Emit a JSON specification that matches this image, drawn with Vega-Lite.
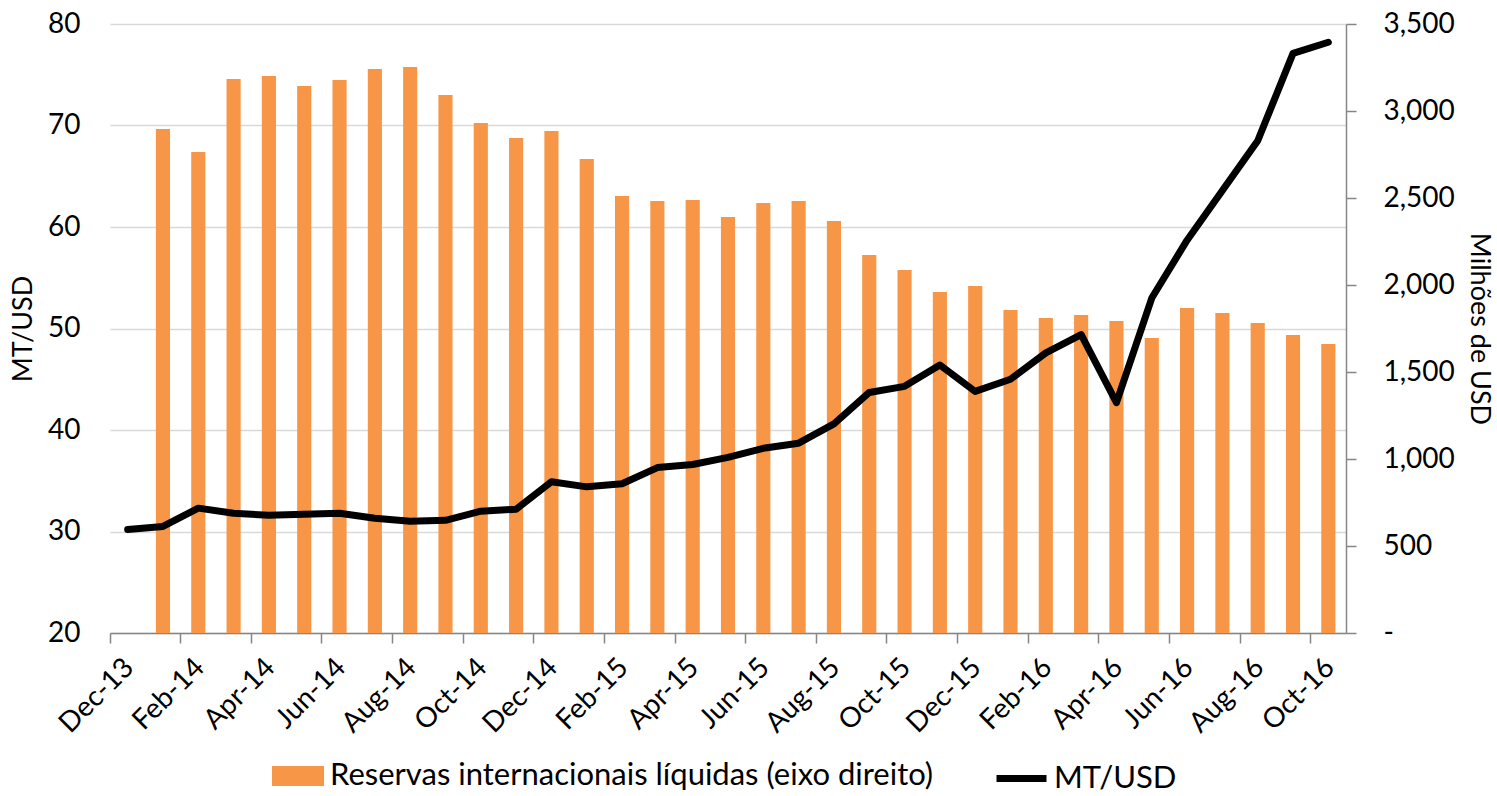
{
  "$schema": "https://vega.github.io/schema/vega-lite/v6.json",
  "width": 1236,
  "height": 609,
  "autosize": {"type": "none"},
  "padding": {"left": 110, "top": 24, "right": 151, "bottom": 163},
  "background": "white",
  "config": {
    "font": "Lato",
    "view": {"stroke": null},
    "axis": {"labelFont": "Lato", "titleFont": "Lato", "labelColor": "#000", "titleColor": "#000", "labelFontSize": 28, "titleFontSize": 27, "titleFontWeight": "normal"},
    "legend": {"labelFont": "Lato", "labelFontSize": 31, "labelColor": "#000"}
  },
  "data": {
    "values": [
      {"month": "Dec-13", "mt": 30.2, "res": null},
      {"month": "Jan-14", "mt": 30.5, "res": 2896},
      {"month": "Feb-14", "mt": 32.3, "res": 2764},
      {"month": "Mar-14", "mt": 31.8, "res": 3184},
      {"month": "Apr-14", "mt": 31.6, "res": 3201},
      {"month": "May-14", "mt": 31.7, "res": 3144},
      {"month": "Jun-14", "mt": 31.8, "res": 3178},
      {"month": "Jul-14", "mt": 31.3, "res": 3241},
      {"month": "Aug-14", "mt": 31.0, "res": 3253},
      {"month": "Sep-14", "mt": 31.1, "res": 3092},
      {"month": "Oct-14", "mt": 32.0, "res": 2931},
      {"month": "Nov-14", "mt": 32.2, "res": 2845},
      {"month": "Dec-14", "mt": 34.9, "res": 2885},
      {"month": "Jan-15", "mt": 34.4, "res": 2724},
      {"month": "Feb-15", "mt": 34.7, "res": 2511},
      {"month": "Mar-15", "mt": 36.3, "res": 2483},
      {"month": "Apr-15", "mt": 36.6, "res": 2488},
      {"month": "May-15", "mt": 37.3, "res": 2391},
      {"month": "Jun-15", "mt": 38.2, "res": 2471},
      {"month": "Jul-15", "mt": 38.7, "res": 2483},
      {"month": "Aug-15", "mt": 40.6, "res": 2368},
      {"month": "Sep-15", "mt": 43.7, "res": 2172},
      {"month": "Oct-15", "mt": 44.3, "res": 2086},
      {"month": "Nov-15", "mt": 46.4, "res": 1960},
      {"month": "Dec-15", "mt": 43.8, "res": 1994},
      {"month": "Jan-16", "mt": 45.0, "res": 1856},
      {"month": "Feb-16", "mt": 47.6, "res": 1810},
      {"month": "Mar-16", "mt": 49.4, "res": 1828},
      {"month": "Apr-16", "mt": 42.7, "res": 1793},
      {"month": "May-16", "mt": 53.0, "res": 1695},
      {"month": "Jun-16", "mt": 58.7, "res": 1868},
      {"month": "Jul-16", "mt": 63.6, "res": 1839},
      {"month": "Aug-16", "mt": 68.5, "res": 1782},
      {"month": "Sep-16", "mt": 77.1, "res": 1713},
      {"month": "Oct-16", "mt": 78.2, "res": 1661}
    ]
  },
  "encoding": {
    "x": {
      "field": "month",
      "type": "ordinal",
      "sort": null,
      "scale": {
        "domain": ["Dec-13", "Jan-14", "Feb-14", "Mar-14", "Apr-14", "May-14", "Jun-14", "Jul-14", "Aug-14", "Sep-14", "Oct-14", "Nov-14", "Dec-14", "Jan-15", "Feb-15", "Mar-15", "Apr-15", "May-15", "Jun-15", "Jul-15", "Aug-15", "Sep-15", "Oct-15", "Nov-15", "Dec-15", "Jan-16", "Feb-16", "Mar-16", "Apr-16", "May-16", "Jun-16", "Jul-16", "Aug-16", "Sep-16", "Oct-16"],
        "paddingInner": 0,
        "paddingOuter": 0
      },
      "axis": {
        "title": null,
        "values": ["Dec-13", "Feb-14", "Apr-14", "Jun-14", "Aug-14", "Oct-14", "Dec-14", "Feb-15", "Apr-15", "Jun-15", "Aug-15", "Oct-15", "Dec-15", "Feb-16", "Apr-16", "Jun-16", "Aug-16", "Oct-16"],
        "bandPosition": 0,
        "labelOffset": 2,
        "labelAngle": -45,
        "labelAlign": "right",
        "labelBaseline": "middle",
        "labelPadding": 20,
        "tickSize": 10,
        "tickColor": "#868686",
        "tickWidth": 1.5,
        "domainColor": "#868686",
        "domainWidth": 1.5,
        "grid": false
      }
    }
  },
  "layer": [
    {
      "mark": {"type": "bar", "width": {"band": 0.4}},
      "encoding": {
        "y": {
          "field": "res",
          "type": "quantitative",
          "scale": {"domain": [0, 3500], "nice": false},
          "axis": {
            "orient": "right",
            "title": "Milhões de USD",
            "values": [0, 500, 1000, 1500, 2000, 2500, 3000, 3500],
            "labelExpr": "datum.value == 0 ? '-' : format(datum.value, ',')",
            "grid": false,
            "domainColor": "#868686",
            "domainWidth": 1.5,
            "tickColor": "#868686",
            "tickWidth": 1.5,
            "tickSize": 10,
            "labelPadding": 27,
            "titlePadding": 10
          }
        },
        "fill": {
          "datum": "Reservas internacionais líquidas (eixo direito)",
          "type": "nominal",
          "scale": {"domain": ["Reservas internacionais líquidas (eixo direito)"], "range": ["#F79646"]},
          "legend": {
            "title": null,
            "orient": "none",
            "legendX": 162,
            "legendY": 726,
            "direction": "horizontal",
            "labelLimit": 900,
            "symbolType": "M-1,-0.385H1V0.385H-1Z",
            "symbolSize": 2704,
            "symbolStrokeWidth": 0,
            "symbolOpacity": 1,
            "labelOffset": 6
          }
        }
      }
    },
    {
      "mark": {"type": "line", "strokeWidth": 7, "strokeCap": "round", "strokeJoin": "round"},
      "encoding": {
        "y": {
          "field": "mt",
          "type": "quantitative",
          "scale": {"domain": [20, 80], "nice": false},
          "axis": {
            "orient": "left",
            "title": "MT/USD",
            "values": [20, 30, 40, 50, 60, 70, 80],
            "domain": false,
            "ticks": false,
            "grid": true,
            "gridColor": "#D9D9D9",
            "gridWidth": 1.5,
            "labelPadding": 30,
            "titlePadding": 10
          }
        },
        "stroke": {
          "datum": "MT/USD",
          "type": "nominal",
          "scale": {"domain": ["MT/USD"], "range": ["#000000"]},
          "legend": {
            "title": null,
            "orient": "none",
            "legendX": 883,
            "legendY": 726,
            "direction": "horizontal",
            "labelLimit": 400,
            "symbolType": "stroke",
            "symbolSize": 2500,
            "symbolStrokeWidth": 7,
            "labelOffset": 4
          }
        }
      }
    }
  ],
  "resolve": {"scale": {"y": "independent"}}
}
